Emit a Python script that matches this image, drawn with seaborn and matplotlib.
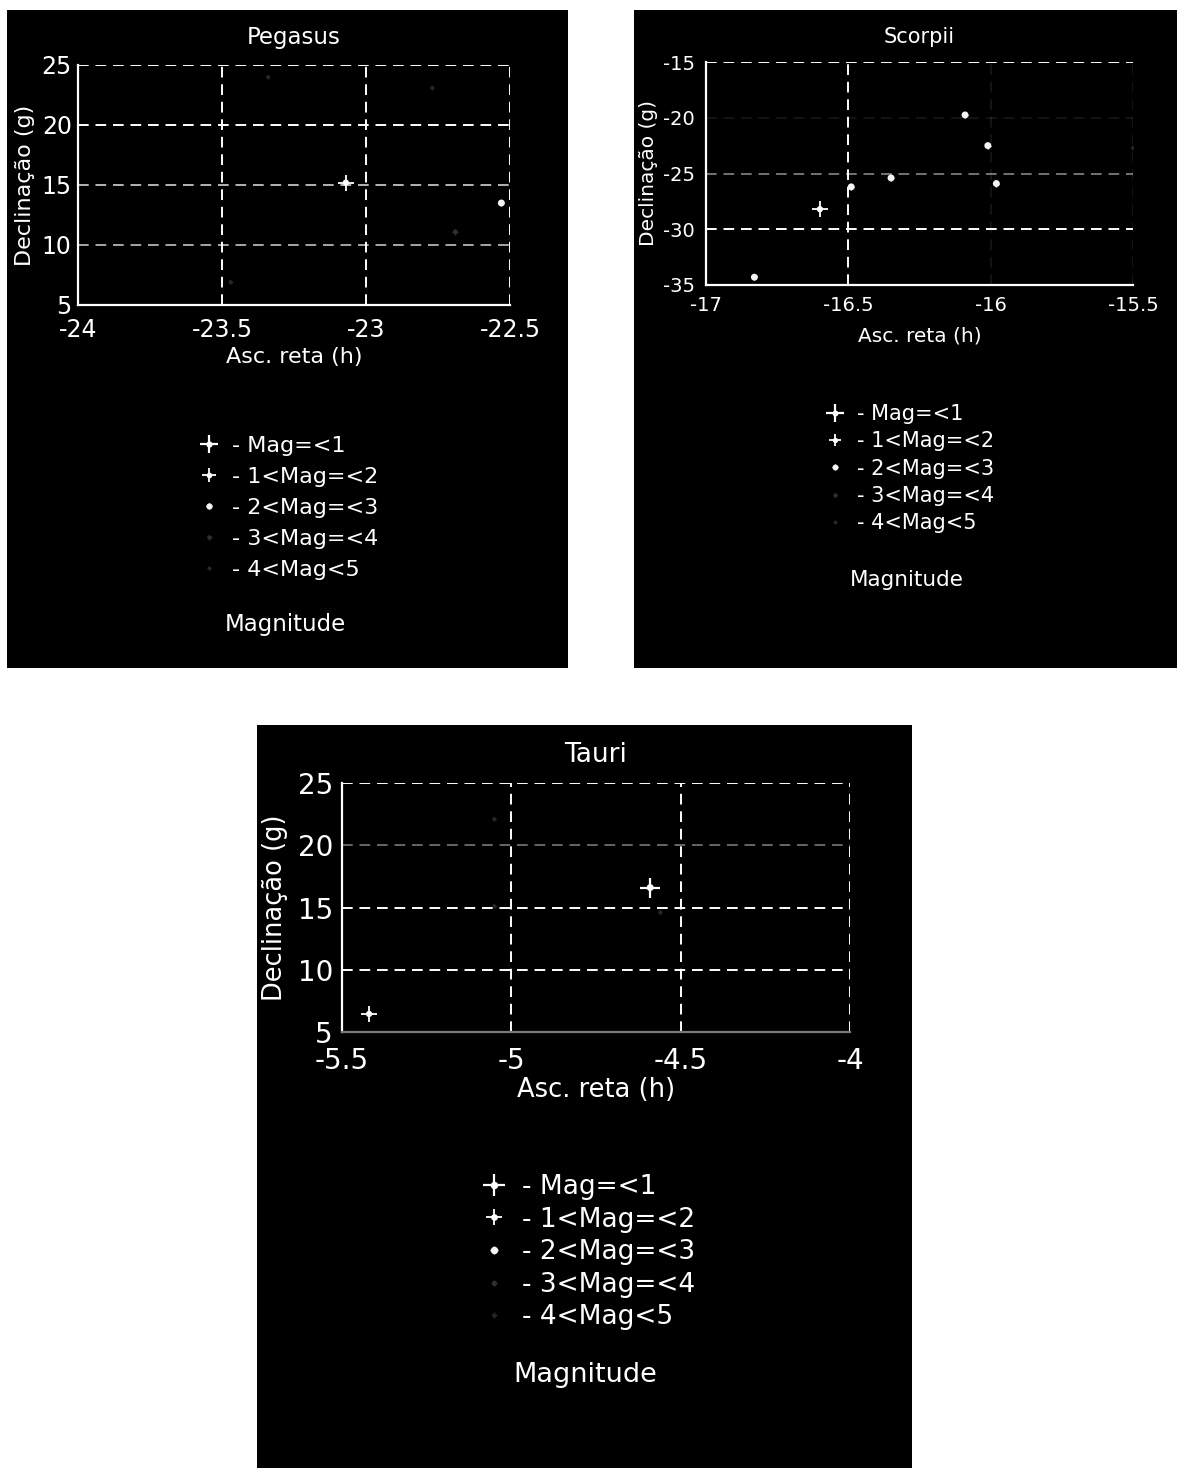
import matplotlib
matplotlib.use("Agg")
import matplotlib.pyplot as plt
from matplotlib.patches import Rectangle
from matplotlib.lines import Line2D
from matplotlib.legend_handler import HandlerTuple
from matplotlib.ticker import FuncFormatter
import seaborn as sns
import pandas as pd

# ---- star data: right ascension (h, negated), declination (deg), magnitude class ----
peg_ra = [-23.07, -22.53, -23.34, -22.77, -22.69, -23.47]
peg_dec = [15.2, 13.5, 24.0, 23.1, 11.1, 6.9]
peg_cls = [1, 2, 4, 4, 3, 4]

sco_ra = [-16.09, -16.01, -15.98, -16.35, -16.49, -16.60, -16.83, -15.50]
sco_dec = [-19.75, -22.5, -25.9, -25.4, -26.2, -28.2, -34.3, -22.7]
sco_cls = [2, 2, 2, 2, 2, 1, 2, 4]

tau_ra = [-4.59, -5.42, -5.05, -5.05, -4.56]
tau_dec = [16.6, 6.45, 22.1, 15.1, 14.6]
tau_cls = [0, 1, 4, 4, 4]

peg_xticks = [-24, -23.5, -23, -22.5]
sco_xticks = [-17, -16.5, -16, -15.5]
tau_xticks = [-5.5, -5, -4.5, -4]
peg_yticks = [5, 10, 15, 20, 25]
sco_yticks = [-35, -30, -25, -20, -15]
tau_yticks = [5, 10, 15, 20, 25]

mag_labels = ["- Mag=<1", "- 1<Mag=<2", "- 2<Mag=<3", "- 3<Mag=<4", "- 4<Mag<5"]

# ---- marker look for each magnitude class ----
cls_color = ["#ffffff", "#ffffff", "#f4f4f4", "#303030", "#262626"]
cls_plus = [15, 11, 5, 4, 3.5]
cls_plus_lw = [1.6, 1.3, 1.0, 1.0, 1.0]
cls_dot = [5, 4.5, 5, 3.5, 3]

W, H = 1177, 1468

sns.set_theme(context="notebook", style="ticks", rc={
    "axes.facecolor": "black",
    "figure.facecolor": "white",
    "axes.edgecolor": "white",
    "text.color": "white",
    "axes.labelcolor": "white",
    "xtick.color": "white",
    "ytick.color": "white",
    "axes.unicode_minus": False,
})
plt.rcParams["font.family"] = ["DejaVu Sans"]

fig = plt.figure(figsize=(W / 100, H / 100), dpi=100)
plain = FuncFormatter(lambda v, _: f"{v:g}")
GRID_DASH = (0, (5.5, 3.5))


def fig_box(left, top, right, bottom):
    return [left / W, 1 - bottom / H, (right - left) / W, (bottom - top) / H]


def fig_pt(x, y):
    return x / W, 1 - y / H


def panel(bg, box, ra, dec, cls, title, xlim, ylim, xticks, yticks, fs,
          xpad, ypad, tpad, xlab_y, ylab_x, xgrid_alpha, ygrid_alpha,
          leg_xy, leg_fs, leg_space, mag_xy, bottom_color="white"):
    fig.patches.append(Rectangle((bg[0] / W, 1 - bg[3] / H), (bg[2] - bg[0]) / W,
                                 (bg[3] - bg[1]) / H, transform=fig.transFigure,
                                 facecolor="black", edgecolor="none", zorder=-10))
    ax = fig.add_axes(fig_box(*box))
    ax.set_facecolor("black")

    # dashed grid, one line per tick
    for xv, a in zip(xticks, xgrid_alpha):
        ax.axvline(xv, color="white", lw=1.4, ls=GRID_DASH, alpha=a, zorder=1)
    for yv, a in zip(yticks, ygrid_alpha):
        ax.axhline(yv, color="white", lw=1.4, ls=GRID_DASH, alpha=a, zorder=1)

    df = pd.DataFrame({"ra": ra, "dec": dec, "cls": cls})
    for c in sorted(df["cls"].unique()):
        sub = df[df["cls"] == c]
        sns.scatterplot(data=sub, x="ra", y="dec", ax=ax, marker="+",
                        s=cls_plus[c] ** 2, color=cls_color[c],
                        linewidth=cls_plus_lw[c], legend=False, zorder=3)
        sns.scatterplot(data=sub, x="ra", y="dec", ax=ax, marker="o",
                        s=cls_dot[c] ** 2, color=cls_color[c],
                        edgecolor="none", legend=False, zorder=4)

    ax.set_xlim(*xlim)
    ax.set_ylim(*ylim)
    ax.set_xticks(xticks)
    ax.set_yticks(yticks)
    ax.xaxis.set_major_formatter(plain)
    ax.yaxis.set_major_formatter(plain)
    ax.tick_params(axis="x", length=0, pad=xpad, labelsize=fs[0])
    ax.tick_params(axis="y", length=0, pad=ypad, labelsize=fs[0])
    for s in ["top", "right"]:
        ax.spines[s].set_visible(False)
    ax.spines["left"].set_color("white")
    ax.spines["left"].set_linewidth(1.6)
    ax.spines["bottom"].set_color(bottom_color)
    ax.spines["bottom"].set_linewidth(1.6)

    ax.set_title(title, fontsize=fs[2], color="white", pad=tpad)
    ax.set_xlabel("Asc. reta (h)", fontsize=fs[1])
    ax.set_ylabel("Declinação (g)", fontsize=fs[1])
    ax.xaxis.set_label_coords(0.5, xlab_y)
    ax.yaxis.set_label_coords(ylab_x, 0.5)

    handles = []
    for c in range(5):
        k = leg_fs / 16.0
        handles.append((
            Line2D([], [], ls="none", marker="+", ms=cls_plus[c] * k * 0.9,
                   mew=cls_plus_lw[c], color=cls_color[c]),
            Line2D([], [], ls="none", marker="o", ms=cls_dot[c] * k * 0.9,
                   mec="none", mfc=cls_color[c]),
        ))
    fig.legend(handles, mag_labels, handler_map={tuple: HandlerTuple(ndivide=1)},
               loc="upper left", bbox_to_anchor=fig_pt(*leg_xy), frameon=False,
               fontsize=leg_fs, labelcolor="white", handlelength=1.0,
               handletextpad=0.55, labelspacing=leg_space, borderpad=0,
               borderaxespad=0)
    fig.text(*fig_pt(*mag_xy), "Magnitude", color="white", fontsize=leg_fs + 0.5,
             ha="center", va="center")
    return ax


panel(bg=(7, 10, 568, 668), box=(78, 65, 510, 305),
      ra=peg_ra, dec=peg_dec, cls=peg_cls, title="Pegasus",
      xlim=(-24, -22.5), ylim=(5, 25), xticks=peg_xticks, yticks=peg_yticks,
      fs=(17, 16, 16.5), xpad=9.5, ypad=4.5, tpad=15,
      xlab_y=-0.175, ylab_x=-0.1,
      xgrid_alpha=[1, 1, 1, 1], ygrid_alpha=[1, 0.65, 0.7, 1, 1],
      leg_xy=(198, 436), leg_fs=16, leg_space=0.49, mag_xy=(285, 625))

panel(bg=(634, 10, 1177, 668), box=(706, 62, 1133, 285),
      ra=sco_ra, dec=sco_dec, cls=sco_cls, title="Scorpii",
      xlim=(-17, -15.5), ylim=(-35, -15), xticks=sco_xticks, yticks=sco_yticks,
      fs=(14, 14.5, 15), xpad=8, ypad=8, tpad=14,
      xlab_y=-0.188, ylab_x=-0.112,
      xgrid_alpha=[1, 1, 0.08, 0.08], ygrid_alpha=[1, 1, 0.45, 0.08, 1],
      leg_xy=(825, 404), leg_fs=15, leg_space=0.35, mag_xy=(907, 580))

panel(bg=(257, 725, 912, 1468), box=(342, 783, 850, 1032),
      ra=tau_ra, dec=tau_dec, cls=tau_cls, title="Tauri",
      xlim=(-5.5, -4), ylim=(5, 25), xticks=tau_xticks, yticks=tau_yticks,
      fs=(20, 18.5, 19), xpad=11, ypad=6.5, tpad=15,
      xlab_y=-0.181, ylab_x=-0.106,
      xgrid_alpha=[1, 1, 1, 1], ygrid_alpha=[0.5, 1, 1, 0.4, 1],
      leg_xy=(481, 1174), leg_fs=19, leg_space=0.25, mag_xy=(585, 1375),
      bottom_color="#7a7a7a")

fig.savefig("out.png", dpi=100, facecolor="white")
